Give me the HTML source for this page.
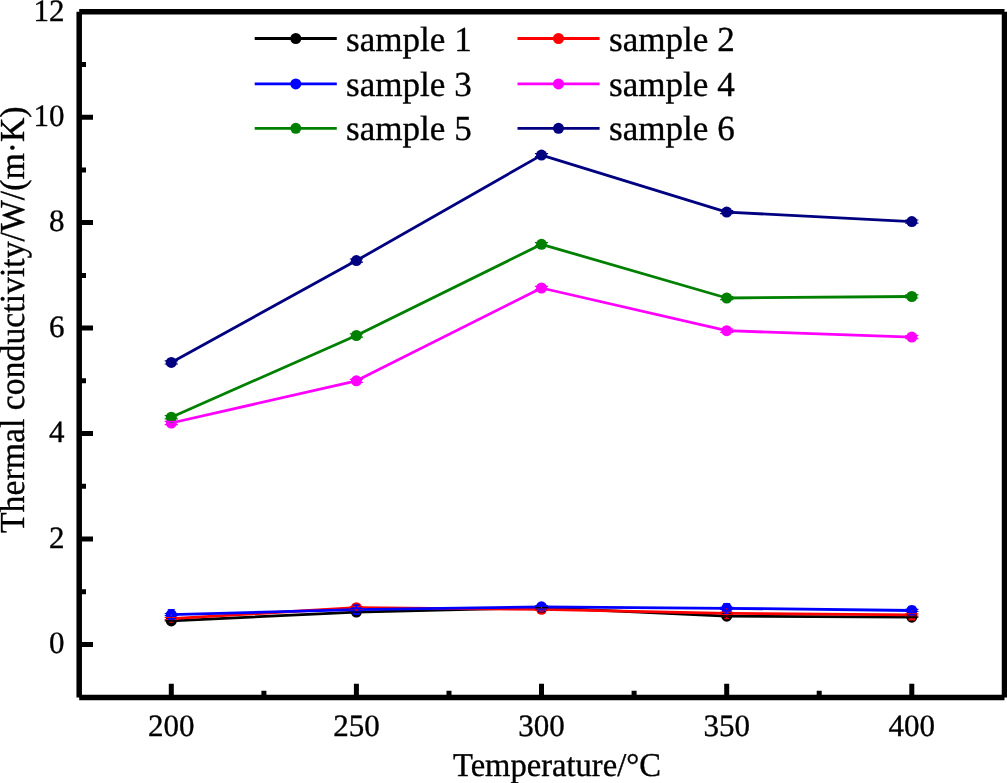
<!DOCTYPE html>
<html lang="en">
<head>
<meta charset="utf-8">
<title>Thermal conductivity vs temperature</title>
<style>
html,body{margin:0;padding:0;background:#fff;}
body{width:1007px;height:783px;overflow:hidden;}
svg{display:block;}
text{font-family:"Liberation Serif",serif;fill:#000;stroke:#000;stroke-width:0.35px;text-rendering:geometricPrecision;}
</style>
</head>
<body>
<svg width="1007" height="783" viewBox="0 0 1007 783">
<rect x="0" y="0" width="1007" height="783" fill="#ffffff"/>
<g fill="none" stroke-linejoin="round" stroke-linecap="round">
<polyline points="171.3,620.9 356.4,612.1 541.5,607.6 726.7,616.2 911.8,617.2" stroke="#000000" stroke-width="2.8"/>
<polyline points="171.3,618.6 356.4,607.7 541.5,609.3 726.7,613.4 911.8,614.9" stroke="#ff0000" stroke-width="2.8"/>
<polyline points="171.3,614.6 356.4,609.7 541.5,606.8 726.7,608.3 911.8,610.5" stroke="#0000ff" stroke-width="2.8"/>
<polyline points="171.3,423.0 356.4,380.8 541.5,288.0 726.7,330.7 911.8,337.1" stroke="#ff00ff" stroke-width="2.8"/>
<polyline points="171.3,417.2 356.4,335.5 541.5,244.3 726.7,298.0 911.8,296.5" stroke="#008000" stroke-width="2.8"/>
<polyline points="171.3,362.4 356.4,260.6 541.5,155.1 726.7,212.1 911.8,221.6" stroke="#000080" stroke-width="2.8"/>
</g>
<g fill="#ff0000"><circle cx="171.3" cy="618.6" r="5.5"/><circle cx="356.4" cy="607.7" r="5.5"/><circle cx="541.5" cy="609.3" r="5.5"/><circle cx="726.7" cy="613.4" r="5.5"/><circle cx="911.8" cy="614.9" r="5.5"/></g>
<g fill="#000000"><circle cx="171.3" cy="620.9" r="5.5"/><circle cx="356.4" cy="612.1" r="5.5"/><circle cx="541.5" cy="607.6" r="5.5"/><circle cx="726.7" cy="616.2" r="5.5"/><circle cx="911.8" cy="617.2" r="5.5"/></g>
<g fill="#0000ff"><circle cx="171.3" cy="614.6" r="5.5"/><circle cx="356.4" cy="609.7" r="5.5"/><circle cx="541.5" cy="606.8" r="5.5"/><circle cx="726.7" cy="608.3" r="5.5"/><circle cx="911.8" cy="610.5" r="5.5"/></g>
<g fill="#ff00ff"><circle cx="171.3" cy="423.0" r="5.5"/><circle cx="356.4" cy="380.8" r="5.5"/><circle cx="541.5" cy="288.0" r="5.5"/><circle cx="726.7" cy="330.7" r="5.5"/><circle cx="911.8" cy="337.1" r="5.5"/></g>
<g fill="#008000"><circle cx="171.3" cy="417.2" r="5.5"/><circle cx="356.4" cy="335.5" r="5.5"/><circle cx="541.5" cy="244.3" r="5.5"/><circle cx="726.7" cy="298.0" r="5.5"/><circle cx="911.8" cy="296.5" r="5.5"/></g>
<g fill="#000080"><circle cx="171.3" cy="362.4" r="5.5"/><circle cx="356.4" cy="260.6" r="5.5"/><circle cx="541.5" cy="155.1" r="5.5"/><circle cx="726.7" cy="212.1" r="5.5"/><circle cx="911.8" cy="221.6" r="5.5"/></g>
<g fill="none" stroke-linecap="butt">
<path d="M164.7 617.5H177.9M164.7 619.6H177.9M349.8 606.7H363.0M349.8 608.8H363.0M534.9 608.2H548.1M534.9 610.4H548.1M720.1 612.3H733.3M720.1 614.4H733.3M905.2 613.9H918.4M905.2 616.0H918.4" stroke="#ff0000" stroke-width="1.2"/>
<path d="M171.3 620.0V622.2M168.9 622.2H173.7M356.4 609.1V610.4M354.0 610.4H358.8M541.5 610.7V611.9M539.1 611.9H543.9M726.7 614.8V618.7M724.3 618.7H729.1M911.8 616.3V619.6M909.4 619.6H914.2" stroke="#ff0000" stroke-width="1"/>
<path d="M722.2 616.4h9M908.4 618.9h6.8M908.4 620.0h6.8" stroke="#ff0000" stroke-width="1.1"/>
<path d="M164.7 613.5H177.9M164.7 615.7H177.9M349.8 608.7H363.0M349.8 610.8H363.0M534.9 605.8H548.1M534.9 607.9H548.1M720.1 607.3H733.3M720.1 609.4H733.3M905.2 609.4H918.4M905.2 611.5H918.4" stroke="#0000ff" stroke-width="1.2"/>
<path d="M171.3 616.0V619.6M167.8 619.6H174.8M171.3 613.2V609.6M167.8 609.6H174.8M356.4 611.1V614.3M352.9 614.3H359.9M356.4 608.3V605.2M352.9 605.2H359.9M541.5 608.2V610.0M538.0 610.0H545.0M541.5 605.4V603.7M538.0 603.7H545.0M726.7 609.7V613.1M723.2 613.1H730.2M726.7 606.9V603.6M723.2 603.6H730.2M911.8 611.9V614.7M908.3 614.7H915.3M911.8 609.1V606.3M908.3 606.3H915.3" stroke="#0000ff" stroke-width="1"/>
<path d="M164.7 620.9H177.9M349.8 612.1H363.0M534.9 607.6H548.1M720.1 616.2H733.3M905.2 617.2H918.4" stroke="#000000" stroke-width="1.2"/>
<path d="M164.7 421.4H177.9M164.7 424.6H177.9M349.8 379.3H363.0M349.8 382.4H363.0M534.9 286.4H548.1M534.9 289.6H548.1M720.1 329.2H733.3M720.1 332.3H733.3M905.2 335.5H918.4M905.2 338.6H918.4" stroke="#ff00ff" stroke-width="1.2"/>
<path d="M164.7 415.6H177.9M164.7 418.8H177.9M349.8 333.9H363.0M349.8 337.1H363.0M534.9 242.7H548.1M534.9 245.8H548.1M720.1 296.5H733.3M720.1 299.6H733.3M905.2 294.9H918.4M905.2 298.0H918.4" stroke="#008000" stroke-width="1.2"/>
<path d="M164.7 360.8H177.9M164.7 364.0H177.9M349.8 259.0H363.0M349.8 262.2H363.0M534.9 153.6H548.1M534.9 156.7H548.1M720.1 210.5H733.3M720.1 213.7H733.3M905.2 220.0H918.4M905.2 223.2H918.4" stroke="#000080" stroke-width="1.2"/>
<path d="M170.7 615.1h1.2M355.8 610.2h1.2M540.9 607.3h1.2M726.1 608.8h1.2M911.2 611.0h1.2" stroke="#ff0000" stroke-width="1.2"/>
</g>
<g stroke="#000" fill="none" stroke-linecap="butt">
<path d="M79.2 11.7V697.5M1004.5 11.7V697.5M79.2 11.7H1004.5M79.2 697.5H1004.5" stroke-width="5.5"/>
<path d="M171.3 697.5V683.8M356.4 697.5V683.8M541.5 697.5V683.8M726.7 697.5V683.8M911.8 697.5V683.8M263.9 697.5V690.8M449.0 697.5V690.8M634.1 697.5V690.8M819.2 697.5V690.8M79.2 644.5H93.0M79.2 539.0H93.0M79.2 433.6H93.0M79.2 328.1H93.0M79.2 222.6H93.0M79.2 117.2H93.0M79.2 591.8H86.0M79.2 486.3H86.0M79.2 380.8H86.0M79.2 275.4H86.0M79.2 169.9H86.0M79.2 64.4H86.0" stroke-width="5"/>
</g>
<g>
<text transform="translate(171.30,735.80)" font-size="31" text-anchor="middle">200</text>
<text transform="translate(356.43,735.80)" font-size="31" text-anchor="middle">250</text>
<text transform="translate(541.55,735.80)" font-size="31" text-anchor="middle">300</text>
<text transform="translate(726.67,735.80)" font-size="31" text-anchor="middle">350</text>
<text transform="translate(911.80,735.80)" font-size="31" text-anchor="middle">400</text>
</g>
<g>
<text transform="translate(64.60,653.10)" font-size="31" text-anchor="end">0</text>
<text transform="translate(64.60,547.63)" font-size="31" text-anchor="end">2</text>
<text transform="translate(64.60,442.17)" font-size="31" text-anchor="end">4</text>
<text transform="translate(64.60,336.70)" font-size="31" text-anchor="end">6</text>
<text transform="translate(64.60,231.23)" font-size="31" text-anchor="end">8</text>
<text transform="translate(64.60,125.77)" font-size="31" text-anchor="end">10</text>
<text transform="translate(64.60,21.10)" font-size="31" text-anchor="end">12</text>
</g>
<text transform="translate(557.00,775.60) scale(1,1.02)" font-size="32.6" text-anchor="middle">Temperature/°C</text>
<text transform="translate(24.00,319.75) rotate(-90) scale(1,1.04)" font-size="33.77" text-anchor="middle">Thermal conductivity/W/(m·K)</text>
<g>
<line x1="254.7" y1="38.5" x2="336.8" y2="38.5" stroke="#000000" stroke-width="2.8"/><circle cx="295.8" cy="38.5" r="5.5" fill="#000000"/><text transform="translate(346.00,50.50)" font-size="35.1" text-anchor="start">sample 1</text>
<line x1="517.5" y1="38.5" x2="599.6" y2="38.5" stroke="#ff0000" stroke-width="2.8"/><circle cx="558.5" cy="38.5" r="5.5" fill="#ff0000"/><text transform="translate(609.00,50.50)" font-size="35.1" text-anchor="start">sample 2</text>
<line x1="254.7" y1="83.9" x2="336.8" y2="83.9" stroke="#0000ff" stroke-width="2.8"/><circle cx="295.8" cy="83.9" r="5.5" fill="#0000ff"/><text transform="translate(346.00,95.90)" font-size="35.1" text-anchor="start">sample 3</text>
<line x1="517.5" y1="83.9" x2="599.6" y2="83.9" stroke="#ff00ff" stroke-width="2.8"/><circle cx="558.5" cy="83.9" r="5.5" fill="#ff00ff"/><text transform="translate(609.00,95.90)" font-size="35.1" text-anchor="start">sample 4</text>
<line x1="254.7" y1="128.3" x2="336.8" y2="128.3" stroke="#008000" stroke-width="2.8"/><circle cx="295.8" cy="128.3" r="5.5" fill="#008000"/><text transform="translate(346.00,140.30)" font-size="35.1" text-anchor="start">sample 5</text>
<line x1="517.5" y1="128.3" x2="599.6" y2="128.3" stroke="#000080" stroke-width="2.8"/><circle cx="558.5" cy="128.3" r="5.5" fill="#000080"/><text transform="translate(609.00,140.30)" font-size="35.1" text-anchor="start">sample 6</text>
</g>
</svg>
</body>
</html>
